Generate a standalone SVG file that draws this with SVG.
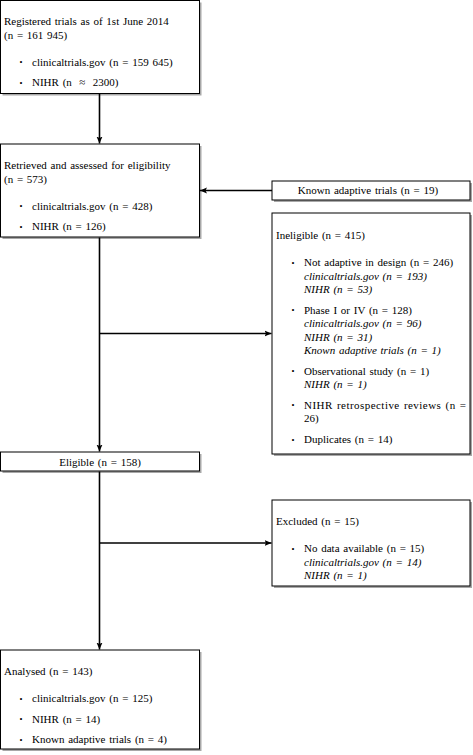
<svg xmlns="http://www.w3.org/2000/svg" width="473" height="755" viewBox="0 0 473 755">
<style>
  text { font-family: "Liberation Serif", "Times New Roman", serif; font-size: 11px; fill: #000; word-spacing: 1px; }
  .it { font-style: italic; }
  .c { text-anchor: middle; }
  .bul { font-size: 8.5px; }
  .box { fill: #fff; stroke: #000; stroke-width: 1; }
  .sh { fill: #a8a8a8; }
  .con { fill: none; stroke: #000; stroke-width: 1.6; }
</style>
<defs>
  <marker id="ah" markerUnits="userSpaceOnUse" markerWidth="8" markerHeight="7" refX="7" refY="3.5" orient="auto">
    <path d="M0,0.5 L7,3.5 L0,6.5 L1.5,3.5 z" fill="#000"/>
  </marker>
</defs>
<rect width="473" height="755" fill="#fff"/>

<g id="registered">
  <rect class="sh" x="2.5" y="2.5" width="199" height="93"/>
  <rect class="box" x="0.5" y="0.5" width="199" height="93"/>
  <text x="4" y="25">Registered trials as of 1st June 2014</text>
  <text x="4" y="38.5">(n = 161 945)</text>
  <text class="bul" x="19.5" y="65">•</text>
  <text x="32" y="65.5">clinicaltrials.gov (n = 159 645)</text>
  <text class="bul" x="19.5" y="85.5">•</text>
  <text x="32" y="86">NIHR (n&#160;&#160;≈&#160;&#160;2300)</text>
</g>

<g id="retrieved">
  <rect class="sh" x="2.5" y="146" width="199" height="93"/>
  <rect class="box" x="0.5" y="144" width="199" height="93"/>
  <text x="4" y="169">Retrieved and assessed for eligibility</text>
  <text x="4" y="182.5">(n = 573)</text>
  <text class="bul" x="19.5" y="209">•</text>
  <text x="32" y="209.5">clinicaltrials.gov (n = 428)</text>
  <text class="bul" x="19.5" y="229.5">•</text>
  <text x="32" y="230">NIHR (n = 126)</text>
</g>

<g id="known">
  <rect class="sh" x="274" y="183" width="198" height="19"/>
  <rect class="box" x="272" y="181" width="198" height="19"/>
  <text class="c" x="368" y="194">Known adaptive trials (n = 19)</text>
</g>

<g id="ineligible">
  <rect class="sh" x="274" y="215" width="198" height="241"/>
  <rect class="box" x="272" y="213" width="198" height="241"/>
  <text x="276" y="239">Ineligible (n = 415)</text>
  <text class="bul" x="291.5" y="265.5">•</text>
  <text x="304" y="266">Not adaptive in design (n = 246)</text>
  <text class="it" x="304" y="279.5">clinicaltrials.gov (n = 193)</text>
  <text class="it" x="304" y="293">NIHR (n = 53)</text>
  <text class="bul" x="291.5" y="313">•</text>
  <text x="304" y="313.5">Phase I or IV (n = 128)</text>
  <text class="it" x="304" y="327">clinicaltrials.gov (n = 96)</text>
  <text class="it" x="304" y="340.5">NIHR (n = 31)</text>
  <text class="it" x="304" y="354">Known adaptive trials (n = 1)</text>
  <text class="bul" x="291.5" y="374">•</text>
  <text x="304" y="374.5">Observational study (n = 1)</text>
  <text class="it" x="304" y="388">NIHR (n = 1)</text>
  <text class="bul" x="291.5" y="408">•</text>
  <text x="304" y="408.5" textLength="162" lengthAdjust="spacing">NIHR retrospective reviews (n =</text>
  <text x="304" y="422">26)</text>
  <text class="bul" x="291.5" y="442.5">•</text>
  <text x="304" y="443">Duplicates (n = 14)</text>
</g>

<g id="eligible">
  <rect class="sh" x="2.5" y="454" width="199" height="19"/>
  <rect class="box" x="0.5" y="452" width="199" height="19"/>
  <text class="c" x="100" y="465.5">Eligible (n = 158)</text>
</g>

<g id="excluded">
  <rect class="sh" x="274" y="502" width="198" height="86"/>
  <rect class="box" x="272" y="500" width="198" height="86"/>
  <text x="276" y="525">Excluded (n = 15)</text>
  <text class="bul" x="291.5" y="551.5">•</text>
  <text x="304" y="552">No data available (n = 15)</text>
  <text class="it" x="304" y="565.5">clinicaltrials.gov (n = 14)</text>
  <text class="it" x="304" y="579">NIHR (n = 1)</text>
</g>

<g id="analysed">
  <rect class="sh" x="2.5" y="652" width="199" height="99"/>
  <rect class="box" x="0.5" y="650" width="199" height="99"/>
  <text x="4" y="675">Analysed (n = 143)</text>
  <text class="bul" x="19.5" y="701.5">•</text>
  <text x="32" y="702">clinicaltrials.gov (n = 125)</text>
  <text class="bul" x="19.5" y="722">•</text>
  <text x="32" y="722.5">NIHR (n = 14)</text>
  <text class="bul" x="19.5" y="742.5">•</text>
  <text x="32" y="743">Known adaptive trials (n = 4)</text>
</g>

<g id="connectors">
  <path class="con" d="M99.5,94 V143.5" marker-end="url(#ah)"/>
  <path class="con" d="M99.5,237.5 V451.5" marker-end="url(#ah)"/>
  <path class="con" d="M99.5,333.5 H271.5" marker-end="url(#ah)"/>
  <path class="con" d="M272,190.5 H200" marker-end="url(#ah)"/>
  <path class="con" d="M99.5,471.5 V649.5" marker-end="url(#ah)"/>
  <path class="con" d="M99.5,543 H271.5" marker-end="url(#ah)"/>
</g>
</svg>
